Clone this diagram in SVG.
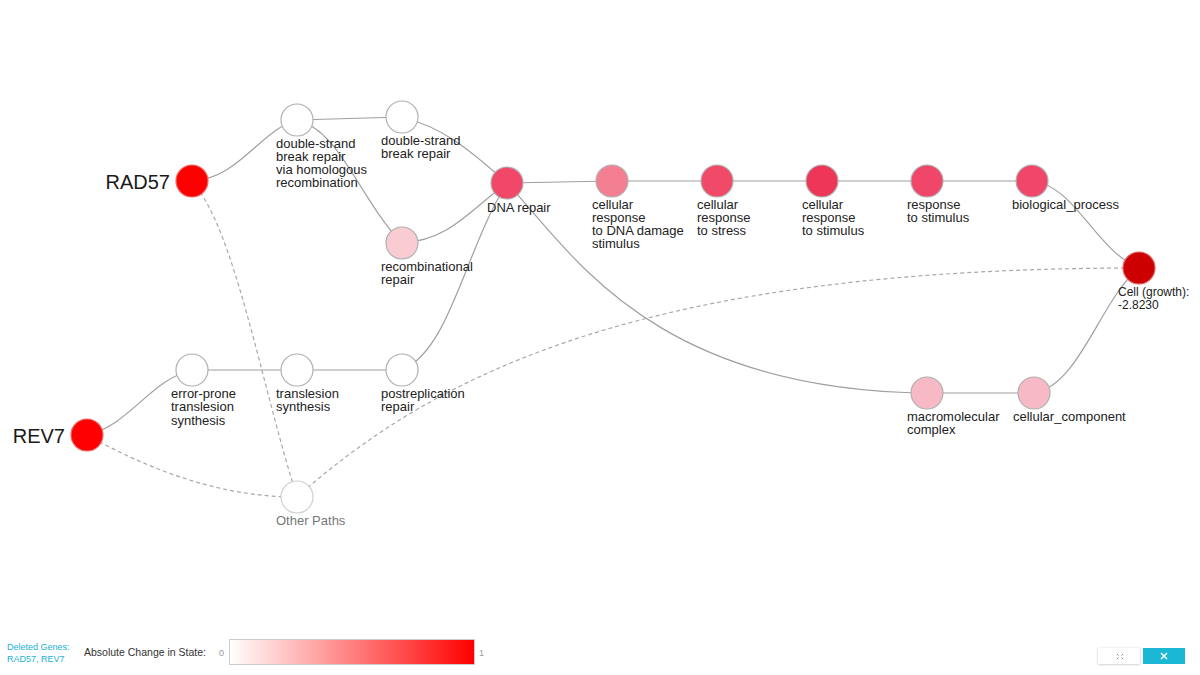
<svg xmlns="http://www.w3.org/2000/svg" width="1200" height="675" viewBox="0 0 1200 675">
  <defs>
    <linearGradient id="scale" x1="0" y1="0" x2="1" y2="0">
      <stop offset="0" stop-color="#ffffff"/>
      <stop offset="1" stop-color="#ff0000"/>
    </linearGradient>
    <filter id="btnShadow" x="-20%" y="-40%" width="140%" height="180%">
      <feDropShadow dx="0" dy="0.5" stdDeviation="0.8" flood-color="#000" flood-opacity="0.25"/>
    </filter>
  </defs>
  <style>
    .edge { fill: none; stroke: #a0a0a0; stroke-width: 1.2; }
    .dash { fill: none; stroke: #a8a8a8; stroke-width: 1.2; stroke-dasharray: 4 3; }
    .node circle { stroke: #b0b0b0; stroke-width: 1.2; }
    .lbl { font-family: "Liberation Sans", Arial, sans-serif; font-size: 13px; fill: #222; }
    .gene { font-family: "Liberation Sans", Arial, sans-serif; font-size: 20px; fill: #1a1a1a; text-anchor: end; }
    .small { font-family: "Liberation Sans", Arial, sans-serif; font-size: 12px; fill: #222; }
    .legend { font-family: "Liberation Sans", Arial, sans-serif; }
  </style>

  <rect width="1200" height="675" fill="#ffffff"/>

  <!-- connectors -->
  <g id="edges">
    <path class="edge" d="M192,181 C240,178 260,130 297,120"/>
    <path class="edge" d="M297,120 L402,117"/>
    <path class="edge" d="M297,120 C340,130 360,200 402,243"/>
    <path class="edge" d="M402,118 C440,125 470,150 507,183"/>
    <path class="edge" d="M402,243 C450,240 470,210 507,183"/>
    <path class="edge" d="M402,370 C450,350 465,250 507,183"/>
    <path class="edge" d="M87,435 C130,425 150,380 192,370"/>
    <path class="edge" d="M192,370 L402,370"/>
    <path class="edge" d="M507,183 L612,181 L1032,181"/>
    <path class="edge" d="M507,183 C570,250 650,390 927,393"/>
    <path class="edge" d="M927,393 L1034,393"/>
    <path class="edge" d="M1032,181 C1075,185 1095,250 1139,268"/>
    <path class="edge" d="M1034,393 C1080,385 1100,300 1139,268"/>
    <path class="dash" d="M192,181 C235,230 260,380 297,497"/>
    <path class="dash" d="M87,435 C150,470 220,497 297,497"/>
    <path class="dash" d="M297,497 C440,370 650,268 1139,268"/>
  </g>

  <!-- nodes -->
  <g id="rad57" class="node">
    <circle cx="192" cy="181" r="16" fill="#ff0000" style="stroke:#e86a6a"/>
    <text class="gene" x="170" y="189">RAD57</text>
  </g>
  <g id="rev7" class="node">
    <circle cx="87" cy="435" r="16" fill="#ff0000" style="stroke:#e86a6a"/>
    <text class="gene" x="65" y="443">REV7</text>
  </g>
  <g id="dsbr-hr" class="node">
    <circle cx="297" cy="120" r="16" fill="#ffffff"/>
    <text class="lbl" x="276" y="147.5">double-strand<tspan x="276" dy="13.3">break repair</tspan><tspan x="276" dy="13.3">via homologous</tspan><tspan x="276" dy="13.3">recombination</tspan></text>
  </g>
  <g id="dsbr" class="node">
    <circle cx="402" cy="117" r="16" fill="#ffffff"/>
    <text class="lbl" x="381" y="145">double-strand<tspan x="381" dy="13.3">break repair</tspan></text>
  </g>
  <g id="recomb-repair" class="node">
    <circle cx="402" cy="243" r="16" fill="#f9ccd4"/>
    <text class="lbl" x="381" y="271">recombinational<tspan x="381" dy="13.3">repair</tspan></text>
  </g>
  <g id="dna-repair" class="node">
    <circle cx="507" cy="183" r="16" fill="#f04866"/>
    <text class="lbl" x="487" y="212">DNA repair</text>
  </g>
  <g id="resp-dna-damage" class="node">
    <circle cx="612" cy="181" r="16" fill="#f47f92"/>
    <text class="lbl" x="592" y="208.5">cellular<tspan x="592" dy="13.3">response</tspan><tspan x="592" dy="13.3">to DNA damage</tspan><tspan x="592" dy="13.3">stimulus</tspan></text>
  </g>
  <g id="resp-stress" class="node">
    <circle cx="717" cy="181" r="16" fill="#f04a68"/>
    <text class="lbl" x="697" y="208.5">cellular<tspan x="697" dy="13.3">response</tspan><tspan x="697" dy="13.3">to stress</tspan></text>
  </g>
  <g id="cell-resp-stimulus" class="node">
    <circle cx="822" cy="181" r="16" fill="#ee3758"/>
    <text class="lbl" x="802" y="208.5">cellular<tspan x="802" dy="13.3">response</tspan><tspan x="802" dy="13.3">to stimulus</tspan></text>
  </g>
  <g id="resp-stimulus" class="node">
    <circle cx="927" cy="181" r="16" fill="#f0466a"/>
    <text class="lbl" x="907" y="208.5">response<tspan x="907" dy="13.3">to stimulus</tspan></text>
  </g>
  <g id="biological-process" class="node">
    <circle cx="1032" cy="181" r="16" fill="#f0466a"/>
    <text class="lbl" x="1012" y="208.5">biological_process</text>
  </g>
  <g id="cell-growth" class="node">
    <circle cx="1139" cy="268" r="16" fill="#cc0000" style="stroke:#dd6666"/>
    <text class="small" x="1118" y="296">Cell (growth):<tspan x="1118" dy="13">-2.8230</tspan></text>
  </g>
  <g id="macromolecular-complex" class="node">
    <circle cx="927" cy="393" r="16" fill="#f8b9c7"/>
    <text class="lbl" x="907" y="420.5">macromolecular<tspan x="907" dy="13.3">complex</tspan></text>
  </g>
  <g id="cellular-component" class="node">
    <circle cx="1034" cy="393" r="16" fill="#f8b9c7"/>
    <text class="lbl" x="1013" y="420.5">cellular_component</text>
  </g>
  <g id="error-prone-tls" class="node">
    <circle cx="192" cy="370" r="16" fill="#ffffff"/>
    <text class="lbl" x="171" y="398">error-prone<tspan x="171" dy="13.3">translesion</tspan><tspan x="171" dy="13.3">synthesis</tspan></text>
  </g>
  <g id="tls" class="node">
    <circle cx="297" cy="370" r="16" fill="#ffffff"/>
    <text class="lbl" x="276" y="398">translesion<tspan x="276" dy="13.3">synthesis</tspan></text>
  </g>
  <g id="postreplication-repair" class="node">
    <circle cx="402" cy="370" r="16" fill="#ffffff"/>
    <text class="lbl" x="381" y="398">postreplication<tspan x="381" dy="13.3">repair</tspan></text>
  </g>
  <g id="other-paths" class="node">
    <circle cx="297" cy="497" r="16" fill="#ffffff" style="stroke:#cfcfcf"/>
    <text class="lbl" x="276" y="525" style="fill:#777">Other Paths</text>
  </g>

  <!-- legend -->
  <g id="legend" class="legend">
    <text x="7" y="650" font-size="9" fill="#1ab2d0">Deleted Genes:</text>
    <text x="7" y="662" font-size="9" fill="#1ab2d0">RAD57, REV7</text>
    <text x="84" y="656" font-size="10.5" fill="#333">Absolute Change in State:</text>
    <text x="219" y="656" font-size="9" fill="#999">0</text>
    <rect x="229.5" y="639.5" width="245" height="25" fill="url(#scale)" stroke="#cccccc"/>
    <text x="479" y="656" font-size="9" fill="#999">1</text>
  </g>

  <!-- window controls -->
  <g id="controls">
    <rect x="1098" y="648" width="42" height="16" fill="#ffffff" filter="url(#btnShadow)"/>
    <g fill="none" stroke="#666" stroke-width="0.8">
      <path d="M1117,654 L1118.5,655.5 M1123,654 L1121.5,655.5 M1117,659 L1118.5,657.5 M1123,659 L1121.5,657.5"/>
    </g>
    <rect x="1143" y="648" width="42" height="16" fill="#1bb8d6"/>
    <path d="M1161,653 L1167,659 M1167,653 L1161,659" stroke="#ffffff" stroke-width="1.5" fill="none"/>
  </g>
</svg>
